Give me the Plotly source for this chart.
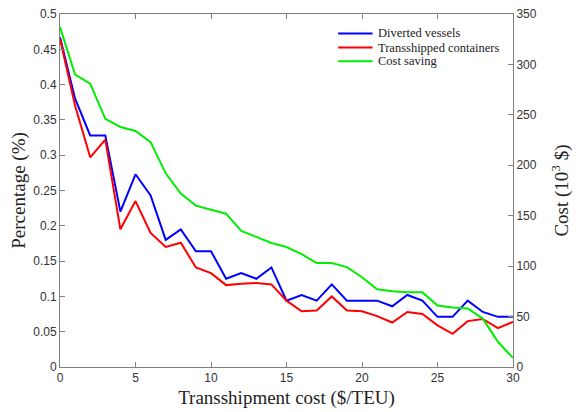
import plotly.graph_objects as go

x = list(range(31))
diverted = [0.467, 0.38, 0.328, 0.328, 0.22, 0.273, 0.243, 0.18, 0.195, 0.164, 0.164,
            0.125, 0.133, 0.125, 0.141, 0.094, 0.102, 0.094, 0.117, 0.094, 0.094,
            0.094, 0.086, 0.102, 0.094, 0.071, 0.071, 0.094, 0.078, 0.071, 0.071]
transshipped = [0.465, 0.37, 0.297, 0.322, 0.195, 0.235, 0.19, 0.17, 0.176, 0.141, 0.133,
                0.116, 0.118, 0.119, 0.117, 0.094, 0.079, 0.08, 0.1, 0.08, 0.079,
                0.072, 0.063, 0.078, 0.075, 0.059, 0.047, 0.065, 0.068, 0.055, 0.064]
cost_saving = [337, 290, 281, 246, 238, 234, 223, 192, 172, 160, 156,
               152, 135, 129, 123, 119, 112, 103, 103, 99, 89,
               77, 75, 74, 74, 61, 59, 58, 48, 25, 9]

series_names = ["Diverted vessels", "Transshipped containers", "Cost saving"]
series_colors = ["#0000ff", "#ff0000", "#00ee00"]

serif = "Liberation Serif, Times New Roman, serif"
sans = "Liberation Sans, Arial, sans-serif"

fig = go.Figure()
fig.add_trace(go.Scatter(x=x, y=diverted, mode="lines", name=series_names[0],
                         line=dict(color=series_colors[0], width=2)))
fig.add_trace(go.Scatter(x=x, y=transshipped, mode="lines", name=series_names[1],
                         line=dict(color=series_colors[1], width=2)))
fig.add_trace(go.Scatter(x=x, y=cost_saving, mode="lines", name=series_names[2],
                         line=dict(color=series_colors[2], width=2), yaxis="y2"))

# compact legend drawn like the original (tight row spacing)
leg_rows = [0.945, 0.905, 0.866]
for name, col, yy in zip(series_names, series_colors, leg_rows):
    fig.add_shape(type="line", xref="paper", yref="paper", x0=0.614, x1=0.690, y0=yy, y1=yy,
                  line=dict(color=col, width=2))
    fig.add_annotation(xref="paper", yref="paper", x=0.698, y=yy, text=name, showarrow=False,
                       xanchor="left", yanchor="middle",
                       font=dict(family=serif, size=12.5, color="#222"))

axcol = "#808080"
fig.update_layout(
    width=576, height=412,
    margin=dict(l=60, r=63, t=14, b=45),
    plot_bgcolor="white", paper_bgcolor="white",
    showlegend=False,
    xaxis=dict(range=[0, 30], tickvals=[0, 5, 10, 15, 20, 25, 30], automargin=False,
               ticks="inside", ticklen=5, tickcolor=axcol, showline=True, linecolor=axcol,
               mirror="ticks", showgrid=False, zeroline=False,
               tickfont=dict(family=sans, size=12, color="#333"),
               title=dict(text="Transshipment cost ($/TEU)", font=dict(family=serif, size=19, color="#222"),
                          standoff=6)),
    yaxis=dict(range=[0, 0.5], dtick=0.05, tickformat="~g", automargin=False,
               ticks="inside", ticklen=5, tickcolor=axcol, showline=True, linecolor=axcol,
               showgrid=False, zeroline=False,
               tickfont=dict(family=sans, size=12, color="#333"),
               title=dict(text="Percentage (%)", font=dict(family=serif, size=19, color="#222"),
                          standoff=2)),
    yaxis2=dict(range=[0, 350], dtick=50, overlaying="y", side="right", automargin=False,
                ticks="inside", ticklen=5, tickcolor=axcol, showline=True, linecolor=axcol,
                showgrid=False, zeroline=False,
                tickfont=dict(family=sans, size=12, color="#333"),
                title=dict(text="Cost (10<sup>3</sup> $)", font=dict(family=serif, size=19, color="#222"),
                           standoff=18)),
)

fig.write_html("out.html", config={"displayModeBar": False},
               post_script="document.body.style.margin='0';document.body.style.overflow='hidden';")
